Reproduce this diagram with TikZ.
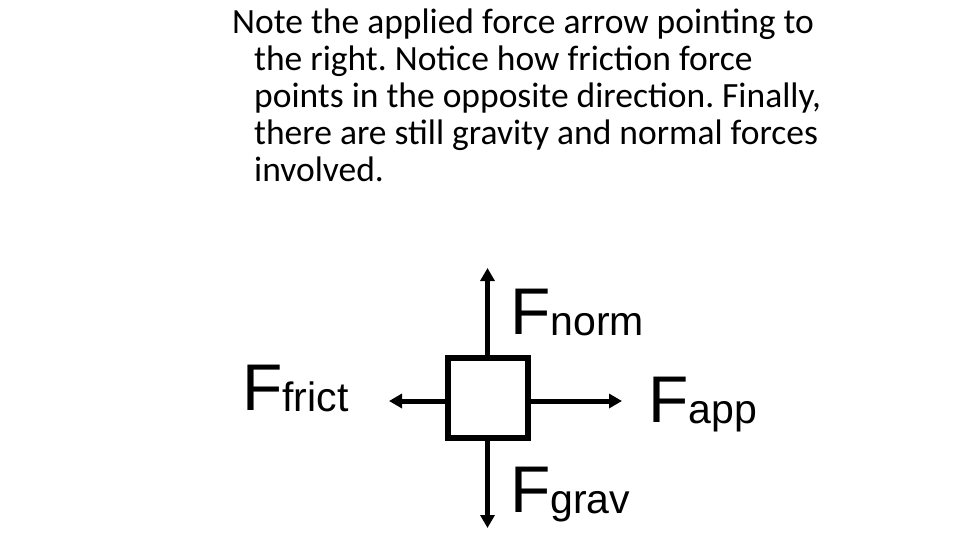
\documentclass[tikz,border=0pt]{standalone}
\usepackage{fontspec}
\setmainfont{Carlito}
\newfontfamily\diagfont{Liberation Sans}
\usetikzlibrary{arrows.meta}
\frenchspacing
\begin{document}
\begin{tikzpicture}[x=1pt,y=-1pt,
  txt/.style={anchor=base west,inner sep=0pt,font=\fontsize{35.5}{36}\selectfont},
  force/.style={line width=5pt,-{Triangle[length=13pt,width=14pt]}},
  lbl/.style={inner sep=0pt,font=\diagfont\fontsize{66}{70}\selectfont}]
\useasboundingbox (0,0) rectangle (960,540);
\node[txt] (l1) at (232,34) {Note the applied force arrow pointing to};
\node[txt] (l2) at (254,71) {the right. Notice how friction force};
\node[txt] (l3) at (254,108) {points in the opposite direction. Finally,};
\node[txt] (l4) at (254,145) {there are still gravity and normal forces};
\node[txt] (l5) at (254,182) {involved.};
\node[draw,line width=6pt,minimum size=80pt,inner sep=0pt] (box) at (487.5,397.5) {};
\coordinate (up) at (487.5,268);
\coordinate (dn) at (487.5,528);
\coordinate (lf) at (389,401);
\coordinate (rt) at (622,401);
\draw[force] (box.north) -- (up);
\draw[force] (box.south) -- (dn);
\draw[force] (box.west|-lf) -- (lf);
\draw[force] (box.east|-rt) -- (rt);
\node[lbl,anchor=base west] (fn) at (510,334) {F\raisebox{-0.02em}{\fontsize{41}{41}\selectfont norm}};
\node[lbl,anchor=base west] (ff) at (242,410) {F\raisebox{-0.02em}{\fontsize{41}{41}\selectfont frict}};
\node[lbl,anchor=base west] (fa) at (648,422) {F\raisebox{-0.02em}{\fontsize{41}{41}\selectfont app}};
\node[lbl,anchor=base west] (fg) at (510,512) {F\raisebox{-0.02em}{\fontsize{41}{41}\selectfont grav}};
\end{tikzpicture}
\end{document}
